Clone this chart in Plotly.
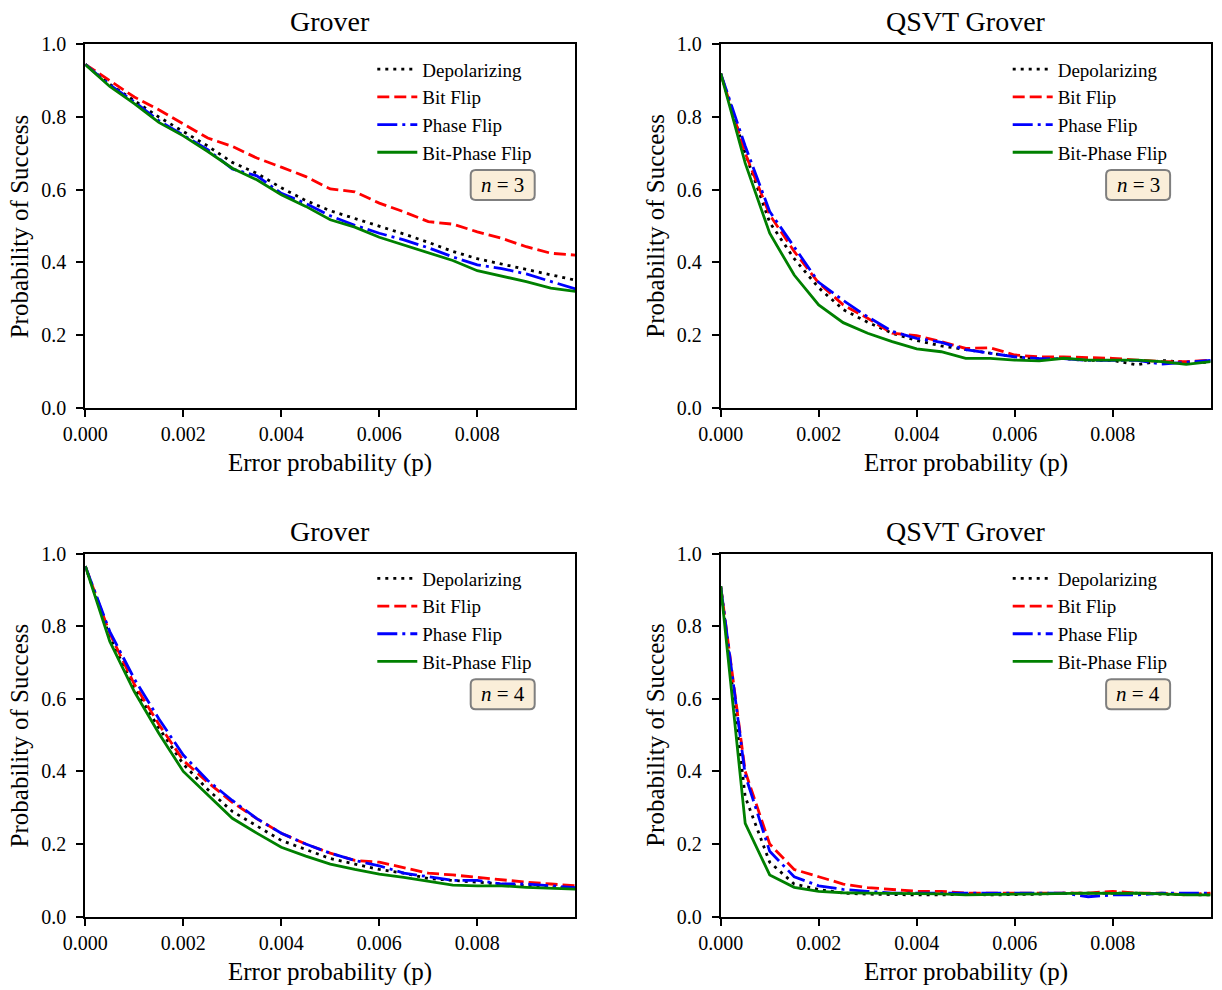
import plotly.graph_objects as go

W, H = 1222, 990

# ---------------- data ----------------
p = [0.0, 0.0005, 0.001, 0.0015, 0.002, 0.0025, 0.003, 0.0035, 0.004, 0.0045,
     0.005, 0.0055, 0.006, 0.0065, 0.007, 0.0075, 0.008, 0.0085, 0.009, 0.0095, 0.01]

series_names = ["Depolarizing", "Bit Flip", "Phase Flip", "Bit-Phase Flip"]

# Grover, n = 3
g3_dep = [0.945, 0.89, 0.845, 0.80, 0.76, 0.72, 0.675, 0.645, 0.605, 0.570, 0.542,
          0.521, 0.498, 0.478, 0.455, 0.430, 0.410, 0.395, 0.379, 0.365, 0.351]
g3_bit = [0.945, 0.90, 0.855, 0.82, 0.78, 0.742, 0.719, 0.687, 0.662, 0.636, 0.602,
          0.594, 0.563, 0.539, 0.512, 0.505, 0.484, 0.466, 0.443, 0.425, 0.420]
g3_phase = [0.945, 0.888, 0.842, 0.79, 0.75, 0.71, 0.657, 0.638, 0.59, 0.562, 0.528,
            0.502, 0.480, 0.462, 0.440, 0.415, 0.393, 0.383, 0.368, 0.348, 0.327]
g3_bpf = [0.944, 0.884, 0.837, 0.785, 0.748, 0.705, 0.659, 0.627, 0.586, 0.554, 0.517,
          0.497, 0.469, 0.448, 0.425, 0.405, 0.377, 0.363, 0.347, 0.329, 0.320]

# QSVT Grover, n = 3
q3_dep = [0.92, 0.70, 0.51, 0.41, 0.33, 0.27, 0.235, 0.205, 0.185, 0.17, 0.16,
          0.15, 0.14, 0.135, 0.135, 0.13, 0.13, 0.118, 0.13, 0.125, 0.125]
q3_bit = [0.92, 0.70, 0.531, 0.43, 0.343, 0.283, 0.246, 0.205, 0.198, 0.182, 0.163,
          0.165, 0.145, 0.14, 0.14, 0.138, 0.136, 0.131, 0.127, 0.127, 0.131]
q3_phase = [0.92, 0.72, 0.54, 0.443, 0.345, 0.295, 0.25, 0.21, 0.191, 0.18, 0.16,
            0.15, 0.14, 0.135, 0.135, 0.13, 0.13, 0.13, 0.12, 0.125, 0.13]
q3_bpf = [0.92, 0.673, 0.48, 0.365, 0.283, 0.234, 0.205, 0.182, 0.162, 0.154, 0.136,
          0.136, 0.131, 0.129, 0.136, 0.131, 0.131, 0.131, 0.127, 0.119, 0.127]

# Grover, n = 4
g4_dep = [0.965, 0.77, 0.63, 0.52, 0.42, 0.35, 0.29, 0.25, 0.21, 0.185, 0.16,
          0.145, 0.13, 0.12, 0.105, 0.10, 0.095, 0.09, 0.085, 0.08, 0.08]
g4_bit = [0.965, 0.78, 0.64, 0.53, 0.43, 0.37, 0.315, 0.27, 0.23, 0.20, 0.175,
          0.155, 0.15, 0.135, 0.12, 0.115, 0.108, 0.10, 0.095, 0.09, 0.085]
g4_phase = [0.965, 0.785, 0.655, 0.545, 0.445, 0.375, 0.32, 0.27, 0.23, 0.20, 0.175,
            0.155, 0.14, 0.12, 0.11, 0.10, 0.10, 0.09, 0.09, 0.085, 0.08]
g4_bpf = [0.965, 0.758, 0.62, 0.505, 0.40, 0.335, 0.271, 0.23, 0.191, 0.167, 0.145,
          0.13, 0.117, 0.108, 0.097, 0.087, 0.085, 0.085, 0.081, 0.078, 0.076]

# QSVT Grover, n = 4
q4_dep = [0.91, 0.33, 0.15, 0.09, 0.075, 0.065, 0.062, 0.06, 0.06, 0.06, 0.062,
          0.06, 0.06, 0.062, 0.065, 0.065, 0.065, 0.065, 0.062, 0.062, 0.06]
q4_bit = [0.91, 0.40, 0.20, 0.13, 0.11, 0.09, 0.08, 0.075, 0.07, 0.07, 0.065,
          0.065, 0.065, 0.065, 0.065, 0.065, 0.07, 0.065, 0.065, 0.06, 0.065]
q4_phase = [0.91, 0.39, 0.18, 0.11, 0.085, 0.075, 0.07, 0.065, 0.065, 0.065, 0.065,
            0.065, 0.065, 0.065, 0.065, 0.055, 0.06, 0.06, 0.065, 0.065, 0.065]
q4_bpf = [0.91, 0.257, 0.115, 0.081, 0.07, 0.066, 0.065, 0.065, 0.065, 0.063, 0.06,
          0.06, 0.062, 0.063, 0.065, 0.065, 0.064, 0.065, 0.063, 0.06, 0.06]

panel_titles = ["Grover", "QSVT Grover", "Grover", "QSVT Grover"]
panel_n = [3, 3, 4, 4]
panel_series = [
    [g3_dep, g3_bit, g3_phase, g3_bpf],
    [q3_dep, q3_bit, q3_phase, q3_bpf],
    [g4_dep, g4_bit, g4_phase, g4_bpf],
    [q4_dep, q4_bit, q4_phase, q4_bpf],
]
x_ticks = [0.0, 0.002, 0.004, 0.006, 0.008]
y_ticks = [0.0, 0.2, 0.4, 0.6, 0.8, 1.0]

# ---------------- style ----------------
FONT = "Liberation Serif, Times New Roman, serif"
styles = [
    dict(color="#000000", dash="3px,5px"),
    dict(color="#ff0000", dash="12px,5px"),
    dict(color="#0000ff", dash="20px,5px,3px,5px"),
    dict(color="#008000", dash="solid"),
]
LW = 2.8

# panel boxes in pixels: (left, top, right, bottom)
boxes = [(85.3, 44.3, 575.3, 407.7), (720.7, 44.3, 1210.7, 407.7),
         (85.3, 553.5, 575.3, 916.7), (720.7, 553.5, 1210.7, 916.7)]


def px(xp):
    return xp / W


def py(yp):
    return 1 - yp / H


fig = go.Figure()
layout = dict(
    width=W, height=H,
    margin=dict(l=0, r=0, t=0, b=0, pad=0, autoexpand=False),
    paper_bgcolor="white", plot_bgcolor="white",
    font=dict(family=FONT, color="black", size=20),
    showlegend=True,
)
annotations = []
shapes = []

for i in range(4):
    k = "" if i == 0 else str(i + 1)
    xa, ya = "x" + k, "y" + k
    lg = "legend" + k
    L, T, R, B = boxes[i]
    for j, name in enumerate(series_names):
        fig.add_trace(go.Scatter(
            x=p, y=panel_series[i][j], mode="lines", name=name,
            line=dict(color=styles[j]["color"], dash=styles[j]["dash"], width=LW),
            xaxis=xa, yaxis=ya, legend=lg, showlegend=True,
        ))
    axis_common = dict(
        showline=True, linecolor="black", linewidth=2, mirror=True,
        ticks="outside", ticklen=7, tickwidth=1.8, tickcolor="black",
        showgrid=False, zeroline=False, automargin=False,
        tickfont=dict(family=FONT, size=20, color="black"),
    )
    layout["xaxis" + k] = dict(
        axis_common, domain=[px(L), px(R)], anchor=ya, range=[0, 0.01],
        tickvals=x_ticks, tickformat=".3f", ticklabelstandoff=0,
    )
    layout["yaxis" + k] = dict(
        axis_common, domain=[py(B), py(T)], anchor=xa, range=[0, 1],
        tickvals=y_ticks, tickformat=".1f", ticklabelstandoff=6,
    )
    layout[lg] = dict(
        x=px(L + 287), y=py(T + 6), xanchor="left", yanchor="top",
        bgcolor="rgba(0,0,0,0)", borderwidth=0,
        font=dict(family=FONT, size=19, color="black"),
        itemwidth=40,
    )
    # title
    annotations.append(dict(
        text=panel_titles[i], xref="paper", yref="paper",
        x=px((L + R) / 2), y=py(T), xanchor="center", yanchor="bottom",
        yshift=5, showarrow=False, font=dict(family=FONT, size=28, color="black"),
    ))
    # x axis title
    annotations.append(dict(
        text="Error probability (p)", xref="paper", yref="paper",
        x=px((L + R) / 2), y=py(B + 55), xanchor="center", yanchor="middle",
        showarrow=False, font=dict(family=FONT, size=25, color="black"),
    ))
    # y axis title
    annotations.append(dict(
        text="Probability of Success", xref="paper", yref="paper",
        x=px(L - 66), y=py((T + B) / 2), xanchor="center", yanchor="middle",
        textangle=-90, showarrow=False, font=dict(family=FONT, size=25, color="black"),
    ))
    # n = box (rounded)
    cx, cy = L + 417.4, T + 140.7
    bw, bh, r = 64, 30, 5
    x0, x1 = cx - bw / 2, cx + bw / 2
    y0, y1 = cy - bh / 2, cy + bh / 2
    pts = [
        ("M", (x0 + r, y0)), ("L", (x1 - r, y0)), ("Q", (x1, y0), (x1, y0 + r)),
        ("L", (x1, y1 - r)), ("Q", (x1, y1), (x1 - r, y1)), ("L", (x0 + r, y1)),
        ("Q", (x0, y1), (x0, y1 - r)), ("L", (x0, y0 + r)), ("Q", (x0, y0), (x0 + r, y0)),
    ]
    path = ""
    for seg in pts:
        path += seg[0] + " " + " ".join(f"{px(a):.6f},{py(b):.6f}" for a, b in seg[1:]) + " "
    path += "Z"
    shapes.append(dict(
        type="path", path=path, xref="paper", yref="paper",
        fillcolor="rgba(245,222,179,0.5)", line=dict(color="#7f7f7f", width=2),
        layer="above",
    ))
    annotations.append(dict(
        text=f"<i>n</i> = {panel_n[i]}", xref="paper", yref="paper",
        x=px(cx), y=py(cy), xanchor="center", yanchor="middle",
        showarrow=False, font=dict(family=FONT, size=21, color="black"),
    ))

layout["annotations"] = annotations
layout["shapes"] = shapes
fig.update_layout(**layout)
fig.write_html("out.html")
